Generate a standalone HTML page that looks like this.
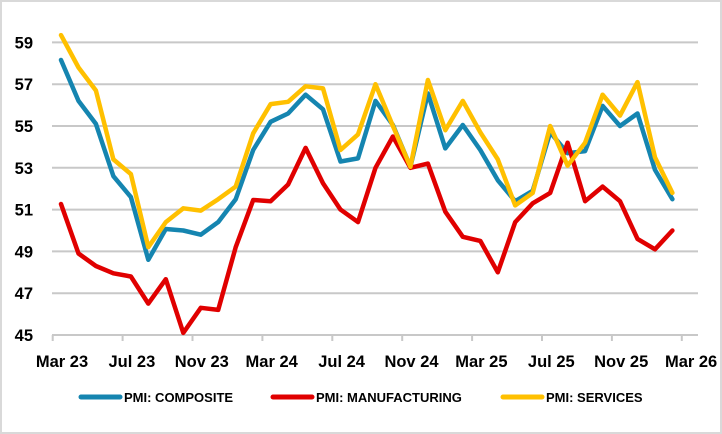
<!DOCTYPE html>
<html><head><meta charset="utf-8"><style>
html,body{margin:0;padding:0;background:#fff;}
svg{display:block;font-family:"Liberation Sans",sans-serif;}
</style></head><body>
<svg id="s" width="722" height="434" viewBox="0 0 722 434" xmlns="http://www.w3.org/2000/svg">
<rect x="1" y="1" width="720" height="432" fill="#fff" stroke="#d9d9d9" stroke-width="2"/>
<g id="grid" stroke="#c8c8c8" stroke-width="2"></g>
<g id="ylab" font-size="16.5" font-weight="bold" fill="#000" text-anchor="end"></g>
<g id="xlab" font-size="16.5" font-weight="bold" fill="#000" text-anchor="middle"></g>
<g id="lines" fill="none" stroke-width="4.5" stroke-linejoin="round" stroke-linecap="round"></g>
<g font-size="13" font-weight="bold" fill="#000">
<line x1="81" y1="397" x2="120" y2="397" stroke="#1585b0" stroke-width="5" stroke-linecap="round"/>
<text x="124" y="402">PMI: COMPOSITE</text>
<line x1="273" y1="397" x2="312" y2="397" stroke="#e00000" stroke-width="5" stroke-linecap="round"/>
<text x="316" y="402">PMI: MANUFACTURING</text>
<line x1="503" y1="397" x2="542" y2="397" stroke="#ffc000" stroke-width="5" stroke-linecap="round"/>
<text x="546" y="402">PMI: SERVICES</text>
</g>
</svg>
<script>
var NS="http://www.w3.org/2000/svg";
function el(p,t,a,txt){var e=document.createElementNS(NS,t);for(var k in a)e.setAttribute(k,a[k]);if(txt!==undefined)e.textContent=txt;document.getElementById(p).appendChild(e);}
function Y(v){return 335-(v-45)*20.9;}
function X(i){return 61+i*17.47;}
for(var v=45;v<=59;v+=2){
 if(v>45) el("grid","line",{x1:52,x2:698,y1:Y(v),y2:Y(v)});
 el("ylab","text",{x:33,y:Y(v)+6},String(v));
}
el("grid","line",{x1:52,x2:698,y1:335,y2:335});
for(var k=0;k<10;k++){var tx=52.7+k*69.9;el("grid","line",{x1:tx,x2:tx,y1:335,y2:341});}
var labs=["Mar 23","Jul 23","Nov 23","Mar 24","Jul 24","Nov 24","Mar 25","Jul 25","Nov 25","Mar 26"];
labs.forEach(function(l,k){el("xlab","text",{x:62+k*69.9,y:367},l);});
var comp=[58.16,56.2,55.1,52.6,51.6,48.6,50.07,50.0,49.8,50.4,51.5,53.85,55.2,55.6,56.5,55.8,53.3,53.45,56.2,55.05,53.05,56.56,53.93,55.05,53.85,52.4,51.4,51.9,54.7,53.7,53.8,55.96,55.0,55.6,52.9,51.5];
var serv=[59.35,57.8,56.7,53.4,52.7,49.2,50.4,51.06,50.95,51.5,52.1,54.65,56.05,56.16,56.9,56.8,53.85,54.6,57.0,55.0,53.05,57.2,54.8,56.2,54.7,53.4,51.2,51.8,55.0,53.1,54.2,56.5,55.5,57.1,53.5,51.8];
var manu=[51.27,48.9,48.3,47.95,47.8,46.5,47.67,45.1,46.3,46.2,49.2,51.46,51.4,52.2,53.95,52.26,51.0,50.4,53.0,54.5,53.0,53.2,50.9,49.7,49.5,48.0,50.4,51.3,51.8,54.2,51.4,52.1,51.4,49.6,49.1,50.0];
function pts(a){return a.map(function(v,i){return X(i).toFixed(1)+","+Y(v).toFixed(1);}).join(" ");}
el("lines","polyline",{points:pts(comp),stroke:"#1585b0"});
el("lines","polyline",{points:pts(manu),stroke:"#e00000"});
el("lines","polyline",{points:pts(serv),stroke:"#ffc000"});
</script>
</body></html>
